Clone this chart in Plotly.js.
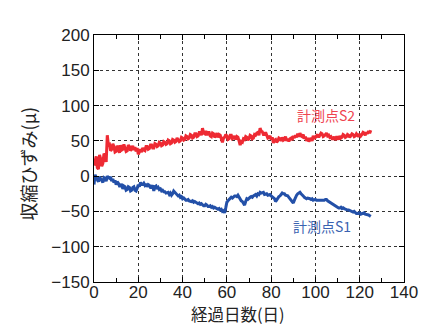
<!DOCTYPE html>
<html><head><meta charset="utf-8">
<script src="https://cdn.plot.ly/plotly-3.0.1.min.js"></script>
<style>html,body{margin:0;padding:0;background:#fff}#c{width:428px;height:327px}</style>
</head><body><div id="c"></div>
<script>
// sampling: every half day from day 0 to day 125
const days = [];
for (let i = 0; i <= 250; i++) days.push(i / 2);
// 計測点S2 (red)
const s2 = [15,22,28,12,10,30,25,14,18,32,30,20,58,44,45,36,38,46,42,34,35,43,40,33,44,37,38,45,41,35,36,44,42,36,39,43,37,41,35,40,
31,36,38,34,40,37,36,42,42,38,39,44,44,40,40,46,45,42,43,48,47,43,44,49,48,45,46,51,50,46,47,52,51,48,49,54,52,49,50,55,
54,51,52,57,56,53,54,59,58,54,55,60,60,56,57,62,62,58,68,61,60,64,58,62,62,57,56,61,60,55,57,61,55,59,58,52,48,54,55,59,
57,52,53,58,58,53,54,57,52,56,55,50,44,49,48,53,52,56,55,51,53,58,57,53,54,59,58,61,62,58,68,64,63,59,59,62,58,54,55,57,
52,55,47,51,52,48,50,54,53,50,55,51,52,56,50,53,49,53,54,51,57,54,58,55,60,56,61,57,56,59,53,56,50,54,49,52,54,50,57,53,
55,58,59,55,58,61,60,56,57,60,61,57,58,55,56,53,53,56,51,55,55,52,57,54,55,59,58,55,56,59,58,55,57,60,59,56,57,60,58,56,
60,57,59,62,61,58,62,60,64,61,65];
// 計測点S1 (blue)
const s1 = [-12,2,-2,-6,-8,-1,-4,-8,-9,-2,-3,-7,0,-2,-3,-1,-7,-4,-9,-6,-12,-8,-10,-14,-14,-11,-18,-14,-15,-20,-19,-15,-16,-21,-20,-16,-15,-20,-21,-17,
-12,-15,-9,-12,-12,-10,-13,-11,-15,-12,-13,-16,-16,-13,-21,-15,-14,-18,-16,-19,-18,-21,-20,-22,-22,-24,-24,-23,-26,-24,-27,-25,-21,-23,-24,-26,-28,-27,-30,-29,
-32,-31,-33,-34,-34,-33,-35,-36,-36,-35,-37,-36,-37,-39,-39,-38,-40,-39,-41,-42,-42,-40,-41,-43,-43,-42,-44,-43,-45,-44,-45,-46,-47,-46,-48,-47,-50,-49,-52,-45,
-37,-35,-33,-31,-30,-31,-29,-28,-28,-29,-27,-30,-33,-35,-36,-38,-41,-36,-32,-33,-31,-30,-29,-30,-28,-27,-26,-28,-25,-26,-23,-24,-24,-23,-26,-25,-25,-27,-27,-26,
-28,-29,-30,-32,-36,-33,-30,-29,-28,-26,-24,-25,-25,-27,-27,-28,-30,-32,-33,-35,-38,-34,-30,-27,-25,-24,-23,-25,-26,-28,-30,-31,-32,-31,-31,-32,-33,-32,-34,-33,
-33,-34,-34,-35,-35,-34,-35,-34,-34,-33,-33,-35,-36,-38,-39,-40,-41,-42,-43,-44,-44,-45,-45,-44,-46,-45,-46,-47,-47,-48,-48,-49,-50,-51,-51,-50,-52,-53,-53,-52,
-52,-54,-53,-52,-52,-54,-54,-55,-55,-56,-57];
const labelS2 = '計測点S2', labelS1 = '計測点S1';
const xTitle = '経過日数(日)', yTitle = '収縮ひずみ(μ)';
const jp = '"Noto Sans CJK JP", sans-serif';
const tickFont = {family:'"Liberation Sans", Arial, sans-serif', size:17, color:'#222'};
const axisCommon = {showline:true, linecolor:'#000', linewidth:1, mirror:'allticks', ticks:'inside', ticklen:5, tickcolor:'#000',
  showgrid:true, gridcolor:'#333', griddash:'dot', gridwidth:1, zeroline:false, tickfont:tickFont};
Plotly.newPlot('c', [
  {x:days, y:s2, mode:'lines', line:{color:'#ee2a33', width:3}, showlegend:false, hoverinfo:'skip'},
  {x:days, y:s1, mode:'lines', line:{color:'#2350a8', width:3}, showlegend:false, hoverinfo:'skip'}
], {
  width:428, height:327, margin:{l:94, r:24, t:35, b:45},
  paper_bgcolor:'#fff', plot_bgcolor:'#fff',
  xaxis:Object.assign({}, axisCommon, {range:[0,140], dtick:20, tick0:0, ticklabelstandoff:-5,
    minor:{dtick:10, ticks:'inside', ticklen:4, tickcolor:'#000', showgrid:false}}),
  yaxis:Object.assign({}, axisCommon, {range:[-150,200], dtick:50, tick0:0}),
  annotations:[
    {xref:'paper', yref:'paper', x:0.466, y:-0.13, yanchor:'middle', xanchor:'center', text:xTitle, showarrow:false,
      font:{family:jp, size:16.5, color:'#222'}, borderpad:0},
    {xref:'paper', yref:'paper', x:-0.213, y:0.48, xanchor:'center', yanchor:'middle', textangle:-90, text:yTitle, showarrow:false,
      font:{family:jp, size:18, color:'#222'}},
    {x:104.8, y:86, text:labelS2, showarrow:false, font:{family:jp, size:14, color:'#ef4450'}},
    {x:103, y:-70, text:labelS1, showarrow:false, font:{family:jp, size:14, color:'#3a62b0'}}
  ]
}, {staticPlot:true});
</script></body></html>
